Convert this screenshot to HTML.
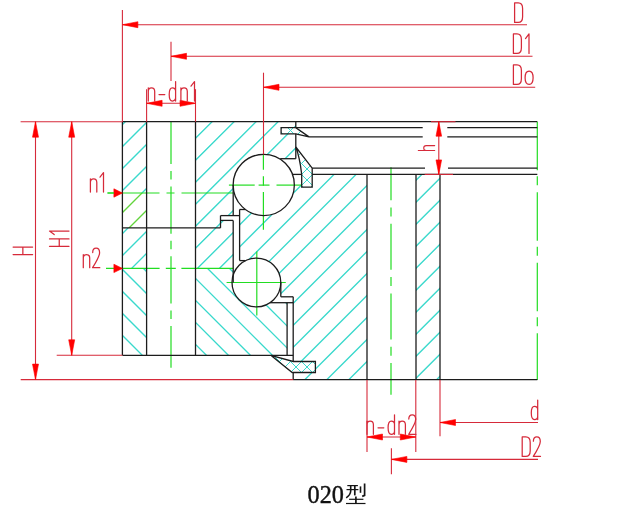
<!DOCTYPE html>
<html><head><meta charset="utf-8"><title>020</title>
<style>html,body{margin:0;padding:0;background:#fff;width:617px;height:513px;overflow:hidden}svg{display:block}</style>
</head><body><svg width="617" height="513" viewBox="0 0 617 513"><clipPath id="oa1"><polygon points="122.4,121.7 146.6,121.7 146.6,193 122.4,193"/></clipPath><path clip-path="url(#oa1)" d="M105.30,119.70 L30.00,195.00 M127.30,119.70 L52.00,195.00 M149.30,119.70 L74.00,195.00 M171.30,119.70 L96.00,195.00 M193.30,119.70 L118.00,195.00 M215.30,119.70 L140.00,195.00" stroke="#3ad9cc" stroke-width="1.35" fill="none"/><clipPath id="oa1g"><polygon points="122.4,193 146.6,193 146.6,227.9 122.4,227.9"/></clipPath><path clip-path="url(#oa1g)" d="M100.00,191.00 L61.10,229.90 M122.00,191.00 L83.10,229.90 M144.00,191.00 L105.10,229.90 M166.00,191.00 L127.10,229.90" stroke="#62d43c" stroke-width="1.35" fill="none"/><clipPath id="oa2"><polygon points="122.4,227.9 146.6,227.9 146.6,268.4 122.4,268.4"/></clipPath><path clip-path="url(#oa2)" d="M108.10,225.90 L63.60,270.40 M130.10,225.90 L85.60,270.40 M152.10,225.90 L107.60,270.40 M174.10,225.90 L129.60,270.40" stroke="#3ad9cc" stroke-width="1.35" fill="none"/><clipPath id="oa3"><polygon points="122.4,268.4 146.6,268.4 146.6,355.3 122.4,355.3"/></clipPath><path clip-path="url(#oa3)" d="M9.40,266.40 L100.30,357.30 M31.40,266.40 L122.30,357.30 M53.40,266.40 L144.30,357.30 M75.40,266.40 L166.30,357.30 M97.40,266.40 L188.30,357.30 M119.40,266.40 L210.30,357.30 M141.40,266.40 L232.30,357.30" stroke="#3ad9cc" stroke-width="1.35" fill="none"/><clipPath id="ob1"><polygon points="195.5,121.7 295.8,121.7 295.8,158.7 279.47569553310757,158.7 278.06941478594393,157.90717543990476 276.62327842111006,157.1896199108769 275.141311509387,156.5493306047884 273.62763884969394,155.98808965632588 272.08647348842317,155.50745918272645 270.5221049931529,155.1087769358943 268.938887513377,154.7931525789992 267.3412276614819,154.56146459792103 265.7335722477024,154.41435785613564 264.12039590319296,154.35224179984914 262.50618862566535,154.37528931837497 260.8954432822552,154.48343626292623 259.2926431044025,154.67638162516297 257.70224920955127,154.9535883749968 256.1286881843999,155.3142849553213 254.5763397642612,155.75746742950818 253.0495246428263,156.2819022756912 251.5524924462595,156.88612982006146 250.0894099050982,157.56846829961714 248.66434925687813,158.32701854306046 247.28127691176343,159.15966925681283 245.94404241272932,160.06410290143597 244.65636772102383,161.03780214210246 243.42183685673183,162.0780568551626 242.24388592327412,163.18197167130535 241.12579354360696,164.34647403431867 240.07067173474158,165.56832275301917 239.08145724598222,166.8441170225477 238.16090338499168,168.17030588992247 237.3115723544352,169.54319813750317 236.53582812053173,170.9589725568578 235.83582983336237,172.4136885844361 235.213525817249,173.9032972694479 234.67064814793025,175.42365254341792 234.20870783162758,176.97052276005132 233.82899059942068,178.53960247329042 233.532553328637,180.12652442077987 233.32022110121628,181.72687167938716 233.19258490723746,183.33618995894528 233.15,184.95 233.2,215.6 220.5,215.6 220.5,227.9 195.5,227.9"/></clipPath><path clip-path="url(#ob1)" d="M192.10,119.70 L81.90,229.90 M214.10,119.70 L103.90,229.90 M236.10,119.70 L125.90,229.90 M258.10,119.70 L147.90,229.90 M280.10,119.70 L169.90,229.90 M302.10,119.70 L191.90,229.90 M324.10,119.70 L213.90,229.90 M346.10,119.70 L235.90,229.90 M368.10,119.70 L257.90,229.90 M390.10,119.70 L279.90,229.90" stroke="#3ad9cc" stroke-width="1.35" fill="none"/><clipPath id="ob2"><polygon points="195.5,227.9 220.5,227.9 220.5,220.4 233.2,220.4 233.2,268.4 195.5,268.4"/></clipPath><path clip-path="url(#ob2)" d="M181.40,218.40 L129.40,270.40 M203.40,218.40 L151.40,270.40 M225.40,218.40 L173.40,270.40 M247.40,218.40 L195.40,270.40 M269.40,218.40 L217.40,270.40" stroke="#3ad9cc" stroke-width="1.35" fill="none"/><clipPath id="ob3"><polygon points="195.5,268.4 233.2,268.4 233.2,282.5 231.99999999999997,282.5 232.03577411624687,283.8207941116823 232.1429915643815,285.1377152527015 232.32133795018643,286.4469018091243 232.57029030773228,287.7445148471754 232.88911863287328,289.0267493701608 233.27688802384168,290.2898454758772 233.73246142266456,291.53009938179036 234.2545029493642,292.74387428565393 234.84148181916498,293.9276110297213 235.49167683122084,295.07783853728034 236.20318141570027,296.19118399090763 236.97390922442986,297.2643827225966 237.80160024870267,298.2942877867584 238.6838274463123,299.277879188025 239.61800385837975,300.2122727367959 240.60139019510498,301.09472850656005 241.63110286819904,301.9226588681952 242.7041224464432,302.69363607768497 243.8173025095811,303.40539939500337 244.96737887458147,304.05586171329355 246.15097916721683,304.6431156789007 247.36463271089227,305.16543928431395 248.6047807037262,305.6213009176171 249.8677866540417,306.00936385364105 251.14994704366765,306.3284901736494 252.4475021877823,306.5777441020627 253.75664725945433,306.75639475043744 255.07354344655437,306.8639182606538 256.39432920832155,306.89999934102707 257.71513159857733,306.8645321908389 259.0320776223833,306.75762081057724 260.3413055928423,306.5795786969754 261.6389764547403,306.3309279237439 262.92128504182637,306.0123976106915 264.1844712347185,305.6249217857237 265.4248309867196,305.16963664598853 266.6387271852102,304.6478772262002 267.822600316771,304.06117348391086 268.9729789047602,303.41124581320906 270.08648968874047,302.7 287.1,302.7 287.1,355.3 195.5,355.3"/></clipPath><path clip-path="url(#ob3)" d="M95.50,266.40 L186.40,357.30 M117.50,266.40 L208.40,357.30 M139.50,266.40 L230.40,357.30 M161.50,266.40 L252.40,357.30 M183.50,266.40 L274.40,357.30 M205.50,266.40 L296.40,357.30 M227.50,266.40 L318.40,357.30 M249.50,266.40 L340.40,357.30 M271.50,266.40 L362.40,357.30" stroke="#3ad9cc" stroke-width="1.35" fill="none"/><clipPath id="ir1"><polygon points="292.1,174.4 367,174.4 367,380 293.2,380 293.2,296.8 280.8,296.8 280.8,282.5 280.79999999999995,282.5 280.79999999999995,282.5 280.76866429366066,281.2637959137478 280.67473766042076,280.03076701833356 280.5184613508865,278.80408034911574 280.30023676084016,277.58688665144166 280.0206244002547,276.38231228795627 279.68034245362355,275.19345120853814 279.28026493530336,274.0233570034875 278.82141944460795,272.8750350603779 278.3049845264186,271.7514348447171 277.7322866440909,270.65544232424276 277.10479677243325,269.58987255631314 276.4241266195071,268.55746245743103 275.6920244869539,267.56086377347174 274.9103707794815,266.6026362686729 274.0811731750438,265.6852411508784 273.2065614681185,264.81103474992517 272.2887820993294,263.9822624654082 271.3301923854621,263.201052999371 270.33325446469485,262.46941288873285 269.30052897259503,261.78922135149827 268.2346684651258,261.162225459984 267.1384106055544,260.59003565346313 266.0145711327628,260.0741216017512 264.8660366290208,259.6158084303579 263.6957571057981,259.2162733169023 262.5067384266582,258.8765424675308 261.3020345866962,258.59748848110655 260.08473986835116,258.3798281079387 258.8579808937396,258.22412040880886 257.6249085939252,258.1307653190231 256.3886901157509,258.100002621178 255.15250068702014,258.13191132927915 253.91951546092298,258.226409485793 252.69290136065337,258.38325437215553 251.47580894516514,258.60204313219464 250.27136431695996,258.8822138068665 249.0826610926912,259.22304677764754 247.9127524572081,259.6236666148753 246.76464332144874,260.08304432628955 245.6412826043249,260.6 239.6,260.6 239.6,209.5 245.48370590404284,209.5 247.09281522992177,210.61901235995404 248.7702607378725,211.6327174710275 250.509160699486,212.5369566030391 252.30238126915617,213.32802011052274 254.14256575071644,214.0026626515659 256.02216477832184,214.558116501841 257.93346728775913,214.9921029092078 259.8686321511258,215.3028414423053 261.8197203450954,215.48905729478008 263.7787275207998,215.54998651518574 265.73761684170944,215.48537914109718 267.6883519547947,215.29550022458295 269.6229299597035,214.98112874482769 271.5334142406992,214.54355441236623 273.41196702666525,213.98457237803981 275.2508815456,213.30647586838106 277.04261364168633,212.5120467776407 278.7798127252278,211.60454425505299 280.4553519284791,210.58769133415993 282.0623573436554,209.46565965904796 283.59423622317314,208.24305237015756 285.0447040264292,206.92488521987727 286.4078102021592,205.51656599539476 287.67796260060373,204.0238723332235 288.84995041532943,202.45292801642069 289.9189655605884,200.81017785173728 290.88062239651344,199.10236122976667 291.73097572122697,197.33648447656185 292.466536956051,195.51979211014847 293.08428845741844,193.65973711985416 293.5816958967705,191.76395039038331 293.95671865765195,189.84020939607527 294.2078182073501,187.89640629377763 294.33396440873304,185.94051554523438 294.33463974639193,183.98056120181727 294.2098414497508,182.02458398581604 293.96008150443254,180.08060830333562 293.58638455183564,178.15660932413104 293.09028368553777,176.26048026343423 292.47381416177177,174.4"/></clipPath><path clip-path="url(#ir1)" d="M226.10,172.40 L16.50,382.00 M248.10,172.40 L38.50,382.00 M270.10,172.40 L60.50,382.00 M292.10,172.40 L82.50,382.00 M314.10,172.40 L104.50,382.00 M336.10,172.40 L126.50,382.00 M358.10,172.40 L148.50,382.00 M380.10,172.40 L170.50,382.00 M402.10,172.40 L192.50,382.00 M424.10,172.40 L214.50,382.00 M446.10,172.40 L236.50,382.00 M468.10,172.40 L258.50,382.00 M490.10,172.40 L280.50,382.00 M512.10,172.40 L302.50,382.00 M534.10,172.40 L324.50,382.00 M556.10,172.40 L346.50,382.00 M578.10,172.40 L368.50,382.00" stroke="#3ad9cc" stroke-width="1.35" fill="none"/><clipPath id="ir2"><polygon points="416,174.4 440,174.4 440,380 416,380"/></clipPath><path clip-path="url(#ir2)" d="M401.90,172.40 L192.30,382.00 M423.90,172.40 L214.30,382.00 M445.90,172.40 L236.30,382.00 M467.90,172.40 L258.30,382.00 M489.90,172.40 L280.30,382.00 M511.90,172.40 L302.30,382.00 M533.90,172.40 L324.30,382.00 M555.90,172.40 L346.30,382.00 M577.90,172.40 L368.30,382.00 M599.90,172.40 L390.30,382.00 M621.90,172.40 L412.30,382.00 M643.90,172.40 L434.30,382.00" stroke="#3ad9cc" stroke-width="1.35" fill="none"/><polygon points="281.1,127.6 295.8,127.6 309,136.9 295.8,133.8 281.1,133.8" stroke="none" stroke-width="0" fill="#ffffff" /><clipPath id="s1a"><polygon points="281.1,127.6 295.8,127.6 309,136.9 295.8,133.8 281.1,133.8"/></clipPath><path clip-path="url(#s1a)" d="M273.40,125.60 L260.10,138.90 M284.40,125.60 L271.10,138.90 M295.40,125.60 L282.10,138.90 M306.40,125.60 L293.10,138.90 M317.40,125.60 L304.10,138.90" stroke="#3ad9cc" stroke-width="1.0" fill="none"/><clipPath id="s1b"><polygon points="281.1,127.6 295.8,127.6 309,136.9 295.8,133.8 281.1,133.8"/></clipPath><path clip-path="url(#s1b)" d="M263.60,125.60 L276.90,138.90 M274.60,125.60 L287.90,138.90 M285.60,125.60 L298.90,138.90 M296.60,125.60 L309.90,138.90 M307.60,125.60 L320.90,138.90" stroke="#3ad9cc" stroke-width="1.0" fill="none"/><polygon points="295.8,147 312.2,168.2 312.2,187.2 301.7,187.2 301.7,174.4 299.5,162 297,152" stroke="none" stroke-width="0" fill="#ffffff" /><clipPath id="s2a"><polygon points="295.8,147 312.2,168.2 312.2,187.2 301.7,187.2 301.7,174.4 299.5,162 297,152"/></clipPath><path clip-path="url(#s2a)" d="M287.00,145.00 L242.80,189.20 M298.00,145.00 L253.80,189.20 M309.00,145.00 L264.80,189.20 M320.00,145.00 L275.80,189.20 M331.00,145.00 L286.80,189.20 M342.00,145.00 L297.80,189.20 M353.00,145.00 L308.80,189.20" stroke="#3ad9cc" stroke-width="1.0" fill="none"/><clipPath id="s2b"><polygon points="295.8,147 312.2,168.2 312.2,187.2 301.7,187.2 301.7,174.4 299.5,162 297,152"/></clipPath><path clip-path="url(#s2b)" d="M239.00,145.00 L283.20,189.20 M250.00,145.00 L294.20,189.20 M261.00,145.00 L305.20,189.20 M272.00,145.00 L316.20,189.20 M283.00,145.00 L327.20,189.20 M294.00,145.00 L338.20,189.20 M305.00,145.00 L349.20,189.20" stroke="#3ad9cc" stroke-width="1.0" fill="none"/><polygon points="270.8,355.3 293.2,361.5 315.4,361.5 315.4,372.5 292.2,372.5" stroke="none" stroke-width="0" fill="#ffffff" /><clipPath id="s3a"><polygon points="270.8,355.3 293.2,361.5 315.4,361.5 315.4,372.5 292.2,372.5"/></clipPath><path clip-path="url(#s3a)" d="M265.70,353.30 L244.50,374.50 M276.70,353.30 L255.50,374.50 M287.70,353.30 L266.50,374.50 M298.70,353.30 L277.50,374.50 M309.70,353.30 L288.50,374.50 M320.70,353.30 L299.50,374.50 M331.70,353.30 L310.50,374.50" stroke="#3ad9cc" stroke-width="1.0" fill="none"/><clipPath id="s3b"><polygon points="270.8,355.3 293.2,361.5 315.4,361.5 315.4,372.5 292.2,372.5"/></clipPath><path clip-path="url(#s3b)" d="M238.30,353.30 L259.50,374.50 M249.30,353.30 L270.50,374.50 M260.30,353.30 L281.50,374.50 M271.30,353.30 L292.50,374.50 M282.30,353.30 L303.50,374.50 M293.30,353.30 L314.50,374.50 M304.30,353.30 L325.50,374.50 M315.30,353.30 L336.50,374.50" stroke="#3ad9cc" stroke-width="1.0" fill="none"/><line x1="171" y1="121.7" x2="171" y2="367.7" stroke="#22dd22" stroke-width="1.2" stroke-dasharray="47.3 7 8.5 7" stroke-dashoffset="5"/><line x1="107.5" y1="193" x2="233.2" y2="193" stroke="#22dd22" stroke-width="1.2" stroke-dasharray="52 7 8 7" stroke-dashoffset="0"/><line x1="106" y1="268.4" x2="233.2" y2="268.4" stroke="#22dd22" stroke-width="1.2" stroke-dasharray="53.6 6.2 10 5.6" stroke-dashoffset="0"/><line x1="263.4" y1="154.4" x2="263.4" y2="169.7" stroke="#22dd22" stroke-width="1.2" /><line x1="263.4" y1="176.3" x2="263.4" y2="185.7" stroke="#22dd22" stroke-width="1.2" /><line x1="263.4" y1="191.9" x2="263.4" y2="229.8" stroke="#22dd22" stroke-width="1.2" /><line x1="228.9" y1="185.1" x2="254.7" y2="185.1" stroke="#22dd22" stroke-width="1.2" /><line x1="258.6" y1="185.1" x2="269.5" y2="185.1" stroke="#22dd22" stroke-width="1.2" /><line x1="276.5" y1="185.1" x2="301.5" y2="185.1" stroke="#22dd22" stroke-width="1.2" /><line x1="226.6" y1="282.5" x2="285.8" y2="282.5" stroke="#22dd22" stroke-width="1.2" /><line x1="256.8" y1="251.6" x2="256.8" y2="315.5" stroke="#22dd22" stroke-width="1.2" /><line x1="391" y1="167.3" x2="391" y2="394.7" stroke="#22dd22" stroke-width="1.2" stroke-dasharray="46 7.3 9 7.3" stroke-dashoffset="13.1"/><line x1="537.3" y1="121.7" x2="537.3" y2="380" stroke="#22dd22" stroke-width="1.2" stroke-dasharray="48.5 6 9 7" stroke-dashoffset="0"/><line x1="122.4" y1="121.7" x2="537.3" y2="121.7" stroke="#1c1c1c" stroke-width="1.3" /><line x1="122.4" y1="121.7" x2="122.4" y2="355.3" stroke="#1c1c1c" stroke-width="1.3" /><line x1="146.6" y1="121.7" x2="146.6" y2="355.3" stroke="#1c1c1c" stroke-width="1.3" /><line x1="195.5" y1="121.7" x2="195.5" y2="355.3" stroke="#1c1c1c" stroke-width="1.3" /><line x1="122.4" y1="227.9" x2="220.5" y2="227.9" stroke="#1c1c1c" stroke-width="1.3" /><line x1="220.5" y1="227.9" x2="220.5" y2="215.6" stroke="#1c1c1c" stroke-width="1.3" /><line x1="220.5" y1="215.6" x2="239.6" y2="215.6" stroke="#1c1c1c" stroke-width="1.3" /><line x1="220.5" y1="220.4" x2="233.2" y2="220.4" stroke="#1c1c1c" stroke-width="1.3" /><line x1="233.2" y1="185" x2="233.2" y2="215.6" stroke="#1c1c1c" stroke-width="1.3" /><line x1="233.2" y1="220.4" x2="233.2" y2="282.5" stroke="#1c1c1c" stroke-width="1.3" /><line x1="122.4" y1="355.3" x2="293.2" y2="355.3" stroke="#1c1c1c" stroke-width="1.3" /><line x1="287.1" y1="302.7" x2="287.1" y2="355.3" stroke="#1c1c1c" stroke-width="1.3" /><line x1="270.1" y1="302.7" x2="293.2" y2="302.7" stroke="#1c1c1c" stroke-width="1.3" /><line x1="295.8" y1="121.7" x2="295.8" y2="127.6" stroke="#1c1c1c" stroke-width="1.3" /><line x1="295.8" y1="133.8" x2="295.8" y2="158.7" stroke="#1c1c1c" stroke-width="1.3" /><line x1="280.2" y1="158.7" x2="295.8" y2="158.7" stroke="#1c1c1c" stroke-width="1.3" /><line x1="239.6" y1="209.5" x2="239.6" y2="260.6" stroke="#1c1c1c" stroke-width="1.3" /><line x1="245.3" y1="209.5" x2="239.6" y2="209.5" stroke="#1c1c1c" stroke-width="1.3" /><line x1="239.6" y1="260.6" x2="245.6" y2="260.6" stroke="#1c1c1c" stroke-width="1.3" /><line x1="280.8" y1="282.5" x2="280.8" y2="296.8" stroke="#1c1c1c" stroke-width="1.3" /><line x1="280.8" y1="296.8" x2="293.2" y2="296.8" stroke="#1c1c1c" stroke-width="1.3" /><line x1="293.2" y1="296.8" x2="293.2" y2="361.5" stroke="#1c1c1c" stroke-width="1.3" /><line x1="293.2" y1="372.5" x2="293.2" y2="380" stroke="#1c1c1c" stroke-width="1.3" /><line x1="293.2" y1="379.6" x2="537.3" y2="379.6" stroke="#1c1c1c" stroke-width="1.3" /><line x1="367" y1="174.4" x2="367" y2="380" stroke="#1c1c1c" stroke-width="1.3" /><line x1="416" y1="174.4" x2="416" y2="380" stroke="#1c1c1c" stroke-width="1.3" /><line x1="440" y1="174.4" x2="440" y2="380" stroke="#1c1c1c" stroke-width="1.3" /><line x1="295.8" y1="127.6" x2="422.7" y2="127.6" stroke="#1c1c1c" stroke-width="1.3" /><line x1="447.3" y1="127.6" x2="537.3" y2="127.6" stroke="#1c1c1c" stroke-width="1.3" /><line x1="309" y1="136.9" x2="422.7" y2="136.9" stroke="#1c1c1c" stroke-width="1.3" /><line x1="447.3" y1="136.9" x2="537.3" y2="136.9" stroke="#1c1c1c" stroke-width="1.3" /><line x1="312.2" y1="168.2" x2="425" y2="168.2" stroke="#1c1c1c" stroke-width="1.3" /><line x1="448" y1="168.2" x2="537.3" y2="168.2" stroke="#1c1c1c" stroke-width="1.3" /><line x1="292.1" y1="174.4" x2="301.7" y2="174.4" stroke="#1c1c1c" stroke-width="1.3" /><line x1="312.2" y1="174.4" x2="537.3" y2="174.4" stroke="#1c1c1c" stroke-width="1.3" /><polygon points="281.1,127.6 295.8,127.6 309,136.9 295.8,133.8 281.1,133.8" stroke="#1c1c1c" stroke-width="1.3" fill="none" /><path d="M295.8,147 L312.2,168.2 L312.2,187.2 L301.7,187.2 L301.7,174.4 C300.5,164 298.5,154 295.8,147" stroke="#1c1c1c" stroke-width="1.3" fill="none"/><path d="M270.8,355.3 L293.2,361.5 L315.4,361.5 L315.4,372.5 L292.2,372.5 Z" stroke="#1c1c1c" stroke-width="1.3" fill="none" stroke-linejoin="miter"/><circle cx="263.75" cy="184.95" r="30.6" stroke="#1c1c1c" stroke-width="1.3" fill="none"/><circle cx="256.4" cy="282.5" r="24.4" stroke="#1c1c1c" stroke-width="1.3" fill="none"/><line x1="122.4" y1="10" x2="122.4" y2="121.7" stroke="#d62a3a" stroke-width="1.1" /><line x1="122.4" y1="24.7" x2="527" y2="24.7" stroke="#d62a3a" stroke-width="1.1" /><line x1="171" y1="41.7" x2="171" y2="81" stroke="#d62a3a" stroke-width="1.1" /><line x1="171" y1="56.3" x2="532.5" y2="56.3" stroke="#d62a3a" stroke-width="1.1" /><line x1="263.5" y1="72.7" x2="263.5" y2="154.4" stroke="#d62a3a" stroke-width="1.1" /><line x1="263.5" y1="87.3" x2="535.2" y2="87.3" stroke="#d62a3a" stroke-width="1.1" /><line x1="146.6" y1="89.2" x2="146.6" y2="121.7" stroke="#d62a3a" stroke-width="1.1" /><line x1="195.5" y1="89.2" x2="195.5" y2="121.7" stroke="#d62a3a" stroke-width="1.1" /><line x1="146.6" y1="103.3" x2="195.5" y2="103.3" stroke="#d62a3a" stroke-width="1.1" /><line x1="20.6" y1="121.7" x2="122.4" y2="121.7" stroke="#d62a3a" stroke-width="1.1" /><line x1="35.5" y1="121.7" x2="35.5" y2="380" stroke="#d62a3a" stroke-width="1.1" /><line x1="20.7" y1="379.6" x2="293.2" y2="379.6" stroke="#d62a3a" stroke-width="1.1" /><line x1="71.7" y1="121.7" x2="71.7" y2="355.3" stroke="#d62a3a" stroke-width="1.1" /><line x1="56.7" y1="355.3" x2="122.4" y2="355.3" stroke="#d62a3a" stroke-width="1.1" /><line x1="431" y1="121.7" x2="455.5" y2="121.7" stroke="#d62a3a" stroke-width="1.1" /><line x1="424.7" y1="174.4" x2="453" y2="174.4" stroke="#d62a3a" stroke-width="1.1" /><line x1="438.8" y1="121.7" x2="438.8" y2="174.4" stroke="#d62a3a" stroke-width="1.1" /><line x1="367" y1="380" x2="367" y2="452" stroke="#d62a3a" stroke-width="1.1" /><line x1="415.8" y1="380" x2="415.8" y2="452" stroke="#d62a3a" stroke-width="1.1" /><line x1="367" y1="437" x2="415.8" y2="437" stroke="#d62a3a" stroke-width="1.1" /><line x1="391.4" y1="448.2" x2="391.4" y2="474.3" stroke="#d62a3a" stroke-width="1.1" /><line x1="391.4" y1="459.4" x2="538" y2="459.4" stroke="#d62a3a" stroke-width="1.1" /><line x1="440" y1="380" x2="440" y2="436.3" stroke="#d62a3a" stroke-width="1.1" /><line x1="440" y1="422.5" x2="538" y2="422.5" stroke="#d62a3a" stroke-width="1.1" /><polygon points="122.40,24.70 137.90,21.70 137.90,27.70" fill="#ff0000" stroke="#ff0000" stroke-width="0.6"/><polygon points="171.00,56.30 186.50,53.30 186.50,59.30" fill="#ff0000" stroke="#ff0000" stroke-width="0.6"/><polygon points="263.50,87.30 279.00,84.30 279.00,90.30" fill="#ff0000" stroke="#ff0000" stroke-width="0.6"/><polygon points="146.60,103.30 162.10,100.30 162.10,106.30" fill="#ff0000" stroke="#ff0000" stroke-width="0.6"/><polygon points="195.50,103.30 180.00,100.30 180.00,106.30" fill="#ff0000" stroke="#ff0000" stroke-width="0.6"/><polygon points="35.50,121.70 32.50,137.20 38.50,137.20" fill="#ff0000" stroke="#ff0000" stroke-width="0.6"/><polygon points="35.50,379.60 32.50,364.10 38.50,364.10" fill="#ff0000" stroke="#ff0000" stroke-width="0.6"/><polygon points="71.70,121.70 68.70,137.20 74.70,137.20" fill="#ff0000" stroke="#ff0000" stroke-width="0.6"/><polygon points="71.70,355.30 68.70,339.80 74.70,339.80" fill="#ff0000" stroke="#ff0000" stroke-width="0.6"/><polygon points="438.80,121.70 436.00,136.20 441.60,136.20" fill="#ff0000" stroke="#ff0000" stroke-width="0.6"/><polygon points="438.80,174.40 436.00,159.90 441.60,159.90" fill="#ff0000" stroke="#ff0000" stroke-width="0.6"/><polygon points="122.40,193.00 113.90,188.80 113.90,197.20" fill="#ff0000" stroke="#ff0000" stroke-width="0.6"/><polygon points="122.40,268.40 113.90,264.20 113.90,272.60" fill="#ff0000" stroke="#ff0000" stroke-width="0.6"/><polygon points="367.00,437.00 382.50,434.00 382.50,440.00" fill="#ff0000" stroke="#ff0000" stroke-width="0.6"/><polygon points="415.80,437.00 400.30,434.00 400.30,440.00" fill="#ff0000" stroke="#ff0000" stroke-width="0.6"/><polygon points="440.00,422.50 455.50,419.50 455.50,425.50" fill="#ff0000" stroke="#ff0000" stroke-width="0.6"/><polygon points="391.40,459.40 406.90,456.40 406.90,462.40" fill="#ff0000" stroke="#ff0000" stroke-width="0.6"/><line x1="107.5" y1="193" x2="114" y2="193" stroke="#22dd22" stroke-width="1.2"/><g transform="translate(514.6,22.4)" fill="none" stroke="#d62a3a" stroke-width="1.25" stroke-linecap="round" stroke-linejoin="round"><path transform="translate(0,0)" d="M0,0 V-19.5 H3.6 C6.6,-19.5 8,-17.2 8,-13.8 V-5.7 C8,-2.3 6.6,0 3.6,0 Z"/></g><g transform="translate(513.4,53.4)" fill="none" stroke="#d62a3a" stroke-width="1.25" stroke-linecap="round" stroke-linejoin="round"><path transform="translate(0,0)" d="M0,0 V-19.5 H3.6 C6.6,-19.5 8,-17.2 8,-13.8 V-5.7 C8,-2.3 6.6,0 3.6,0 Z"/><path transform="translate(12.100000000000023,0)" d="M3.5,0 V-19.5 L0,-14.8"/></g><g transform="translate(513.4,84.4)" fill="none" stroke="#d62a3a" stroke-width="1.25" stroke-linecap="round" stroke-linejoin="round"><path transform="translate(0,0)" d="M0,0 V-19.5 H3.6 C6.6,-19.5 8,-17.2 8,-13.8 V-5.7 C8,-2.3 6.6,0 3.6,0 Z"/><path transform="translate(11.700000000000045,0)" d="M4,-13.4 C1.6,-13.4 0,-11 0,-6.7 C0,-2.4 1.6,0 4,0 C6.4,0 8,-2.4 8,-6.7 C8,-11 6.4,-13.4 4,-13.4 Z"/></g><g transform="translate(148.3,101)" fill="none" stroke="#d62a3a" stroke-width="1.25" stroke-linecap="round" stroke-linejoin="round"><path transform="translate(0,0)" d="M0,0 V-13.2 M0,-9.6 C0,-12.2 1.4,-13.2 3.2,-13.2 C5.0,-13.2 6.4,-12.2 6.4,-9.6 V0"/><path transform="translate(10.699999999999989,0)" d="M0,-6.5 H5.8"/><path transform="translate(20.899999999999977,0)" d="M6.4,-19.5 V0 M6.4,-9.8 C6.4,-12.2 5.0,-13.2 3.2,-13.2 C1.2,-13.2 0,-11.4 0,-6.6 C0,-1.8 1.2,0 3.2,0 C5.0,0 6.4,-1.0 6.4,-3.4"/><path transform="translate(32.599999999999994,0)" d="M0,0 V-13.2 M0,-9.6 C0,-12.2 1.4,-13.2 3.2,-13.2 C5.0,-13.2 6.4,-12.2 6.4,-9.6 V0"/><path transform="translate(42.69999999999999,0)" d="M3.5,0 V-19.5 L0,-14.8"/></g><g transform="translate(367,434.3)" fill="none" stroke="#d62a3a" stroke-width="1.25" stroke-linecap="round" stroke-linejoin="round"><path transform="translate(0,0)" d="M0,0 V-13.2 M0,-9.6 C0,-12.2 1.4,-13.2 3.2,-13.2 C5.0,-13.2 6.4,-12.2 6.4,-9.6 V0"/><path transform="translate(11,0)" d="M0,-6.5 H5.8"/><path transform="translate(21.100000000000023,0)" d="M6.4,-19.5 V0 M6.4,-9.8 C6.4,-12.2 5.0,-13.2 3.2,-13.2 C1.2,-13.2 0,-11.4 0,-6.6 C0,-1.8 1.2,0 3.2,0 C5.0,0 6.4,-1.0 6.4,-3.4"/><path transform="translate(32,0)" d="M0,0 V-13.2 M0,-9.6 C0,-12.2 1.4,-13.2 3.2,-13.2 C5.0,-13.2 6.4,-12.2 6.4,-9.6 V0"/><path transform="translate(41.69999999999999,0)" d="M0.1,-15.2 C0.1,-18.2 1.6,-19.5 3.5,-19.5 C5.5,-19.5 7,-18.2 7,-15.0 C7,-11.6 5.0,-8.0 0,0 H7.2"/></g><g transform="translate(531.3,419.6)" fill="none" stroke="#d62a3a" stroke-width="1.25" stroke-linecap="round" stroke-linejoin="round"><path transform="translate(0,0)" d="M6.4,-19.5 V0 M6.4,-9.8 C6.4,-12.2 5.0,-13.2 3.2,-13.2 C1.2,-13.2 0,-11.4 0,-6.6 C0,-1.8 1.2,0 3.2,0 C5.0,0 6.4,-1.0 6.4,-3.4"/></g><g transform="translate(522.2,456.4)" fill="none" stroke="#d62a3a" stroke-width="1.25" stroke-linecap="round" stroke-linejoin="round"><path transform="translate(0,0)" d="M0,0 V-19.5 H3.6 C6.6,-19.5 8,-17.2 8,-13.8 V-5.7 C8,-2.3 6.6,0 3.6,0 Z"/><path transform="translate(11.099999999999909,0)" d="M0.1,-15.2 C0.1,-18.2 1.6,-19.5 3.5,-19.5 C5.5,-19.5 7,-18.2 7,-15.0 C7,-11.6 5.0,-8.0 0,0 H7.2"/></g><g transform="translate(90.4,192)" fill="none" stroke="#d62a3a" stroke-width="1.25" stroke-linecap="round" stroke-linejoin="round"><path transform="translate(0,0)" d="M0,0 V-13.2 M0,-9.6 C0,-12.2 1.4,-13.2 3.2,-13.2 C5.0,-13.2 6.4,-12.2 6.4,-9.6 V0"/><path transform="translate(9.599999999999994,0)" d="M3.5,0 V-19.5 L0,-14.8"/></g><g transform="translate(83.3,267.7)" fill="none" stroke="#d62a3a" stroke-width="1.25" stroke-linecap="round" stroke-linejoin="round"><path transform="translate(0,0)" d="M0,0 V-13.2 M0,-9.6 C0,-12.2 1.4,-13.2 3.2,-13.2 C5.0,-13.2 6.4,-12.2 6.4,-9.6 V0"/><path transform="translate(9.299999999999997,0)" d="M0.1,-15.2 C0.1,-18.2 1.6,-19.5 3.5,-19.5 C5.5,-19.5 7,-18.2 7,-15.0 C7,-11.6 5.0,-8.0 0,0 H7.2"/></g><g transform="translate(32.6,254.5) rotate(-90)" fill="none" stroke="#d62a3a" stroke-width="1.25" stroke-linecap="round" stroke-linejoin="round"><path transform="translate(0,0)" d="M0,0 V-19.5 M7.4,0 V-19.5 M0,-9.75 H7.4"/></g><g transform="translate(69,246.3) rotate(-90)" fill="none" stroke="#d62a3a" stroke-width="1.25" stroke-linecap="round" stroke-linejoin="round"><path transform="translate(0,0)" d="M0,0 V-19.5 M7.4,0 V-19.5 M0,-9.75 H7.4"/><path transform="translate(11.7,0)" d="M3.5,0 V-19.5 L0,-14.8"/></g><g transform="translate(434.7,150.5) rotate(-90)" fill="none" stroke="#d62a3a" stroke-width="1.1" stroke-linecap="round"><path d="M0,0 V-16.4 M0,-8.5 C0,-10.2 1.2,-11 2.5,-11 C3.8,-11 4.9,-10.2 4.9,-8.5 V0"/></g><text style="will-change:transform" x="307.6" y="502.6" font-family="Liberation Serif, serif" font-size="25" fill="#111" stroke="#111" stroke-width="0.4" textLength="36.4" lengthAdjust="spacingAndGlyphs">020</text><g fill="none" stroke="#151515" stroke-linecap="butt"><path stroke-width="1.2" d="M347.3,485.6 H357.9"/><path stroke-width="1.2" d="M346.5,489.6 H358.4"/><path stroke-width="1.6" d="M350.7,485.6 V491 C350.5,494 349,496 346.2,497.8"/><path stroke-width="1.7" d="M354.8,485.6 V495.4"/><path stroke-width="1.6" d="M360.5,486.4 V492.8"/><path stroke-width="1.7" d="M364.6,483.6 V495.4 L362.2,496.4"/><path stroke-width="1.2" d="M349.1,499.3 H363.4"/><path stroke-width="1.7" d="M355.9,496.4 V503.2"/><path stroke-width="1.2" d="M346,503.5 H365.5"/></g></svg></body></html>
